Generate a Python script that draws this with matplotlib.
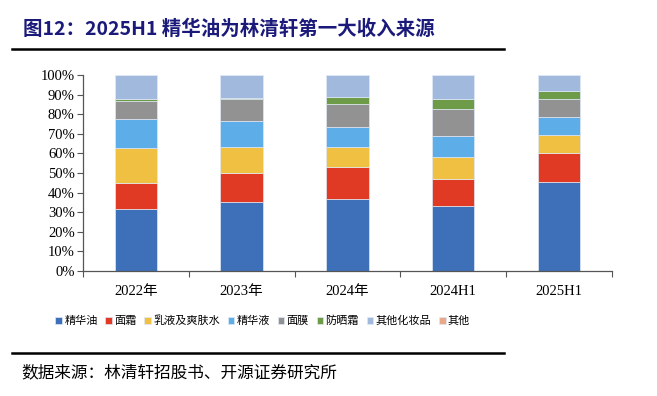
import numpy as np
import matplotlib
matplotlib.use("Agg")
import matplotlib.pyplot as plt
from matplotlib.lines import Line2D

plt.rcParams['font.family'] = ['Liberation Serif', 'Noto Sans CJK SC', 'DejaVu Sans']

categories = ['2022年', '2023年', '2024年', '2024H1', '2025H1']
series_names = ['精华油', '面霜', '乳液及爽肤水', '精华液', '面膜', '防晒霜', '其他化妆品', '其他']
jinghuayou = [31.5, 35.4, 36.9, 32.9, 45.6]
mianshuang = [13.6, 14.8, 16.0, 14.2, 14.7]
ruye = [17.4, 13.0, 10.3, 10.9, 8.9]
jinghuaye = [14.8, 13.1, 10.2, 10.8, 9.3]
mianmo = [9.6, 11.3, 12.0, 13.7, 9.0]
fangshai = [0.9, 0.4, 3.2, 5.3, 4.2]
qita_hzp = [12.0, 11.8, 11.2, 12.0, 8.1]
qita = [0.2, 0.2, 0.2, 0.2, 0.2]
colors = ['#3E70B9', '#E03A24', '#F0C043', '#5DAEE8', '#929292', '#6E9B47', '#A2B9DE', '#E8A88A']

series = [jinghuayou, mianshuang, ruye, jinghuaye, mianmo, fangshai, qita_hzp, qita]

fig = plt.figure(figsize=(6.57, 3.96), dpi=100)
ax = fig.add_axes([0.1263, 0.3157, 0.805, 0.495])

x = np.arange(len(categories))
bottom = np.zeros(len(categories))
for vals, c, name in zip(series, colors, series_names):
    v = np.array(vals)
    ax.bar(x, v, width=0.4, bottom=bottom, color=c, edgecolor='#dfe8f5', linewidth=0.5, label=name)
    bottom += v

ax.set_xlim(-0.5, len(categories) - 0.5)
ax.set_ylim(0, 100)
ax.set_yticks(np.arange(0, 101, 10))
ax.set_yticklabels([f'{v}%' for v in range(0, 101, 10)], fontsize=10.5)
ax.set_xticks(np.arange(-0.5, len(categories), 1.0))
ax.set_xticklabels([])
ax.set_xticks(x, minor=True)
ax.set_xticklabels(categories, minor=True, fontsize=10.5)
ax.tick_params(axis='x', which='minor', length=0, pad=10)
ax.tick_params(axis='x', which='major', length=4, direction='out', color='#555555')
ax.tick_params(axis='y', length=4, direction='out', color='#555555', pad=2)
for s in ['top', 'right']:
    ax.spines[s].set_visible(False)
for s in ['left', 'bottom']:
    ax.spines[s].set_color('#555555')
    ax.spines[s].set_linewidth(0.9)

handles, labels = ax.get_legend_handles_labels()
leg = fig.legend(handles, labels, loc='center', bbox_to_anchor=(0.40, 0.19), ncol=8,
                 frameon=False, handlelength=0.6, handleheight=0.6,
                 handletextpad=0.2, columnspacing=0.7,
                 prop={'family': ['Noto Sans CJK SC'], 'size': 8})

fig.text(0.035, 0.925, '图12：2025H1 精华油为林清轩第一大收入来源', fontsize=14, fontweight='bold',
         color='#1B1A7A', family=['Noto Sans CJK SC'], va='center')
fig.add_artist(Line2D([0.018, 0.767], [0.876, 0.876], color='black', linewidth=1.8, transform=fig.transFigure))
fig.add_artist(Line2D([0.018, 0.767], [0.108, 0.108], color='black', linewidth=1.8, transform=fig.transFigure))
fig.text(0.033, 0.058, '数据来源：林清轩招股书、开源证券研究所', fontsize=12,
         color='black', family=['Noto Sans CJK SC'], va='center')

fig.savefig('out.png', dpi=100)
